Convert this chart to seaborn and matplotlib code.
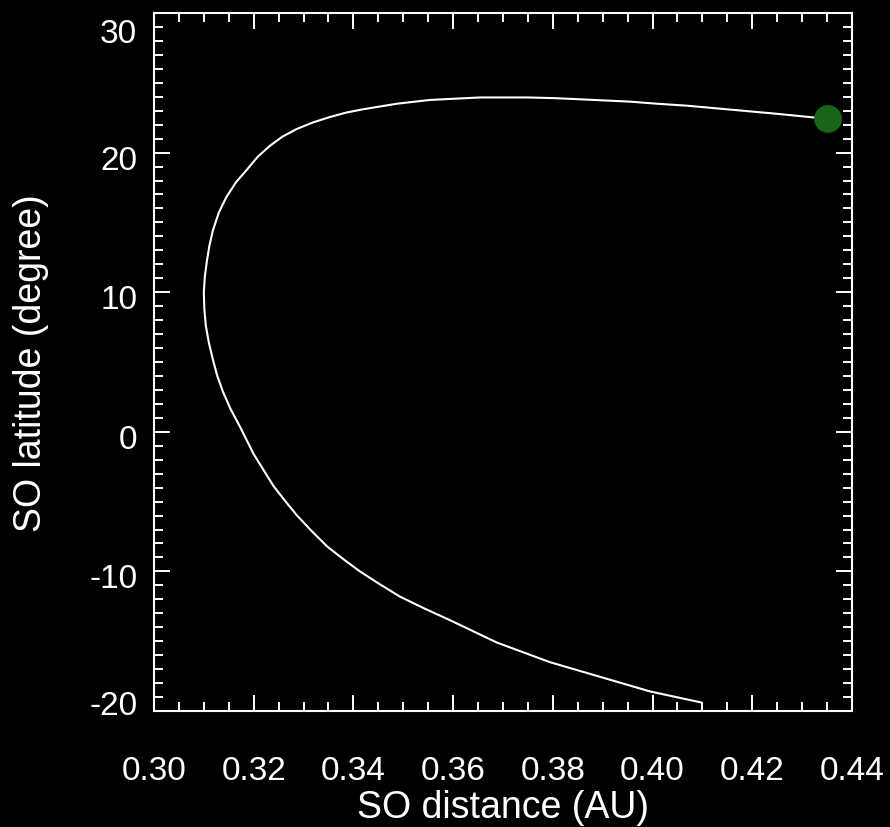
import matplotlib
matplotlib.use("Agg")
import matplotlib.pyplot as plt
import matplotlib.transforms as mtransforms
from matplotlib.ticker import MultipleLocator, FixedLocator, FixedFormatter
import pandas as pd
import seaborn as sns

# Solar Orbiter track: heliocentric distance (AU) and latitude (degree)
so_distance = [0.4099, 0.3995, 0.3794, 0.3688, 0.3594, 0.3542, 0.3493, 0.3452,
               0.3413, 0.3379, 0.3347, 0.3316, 0.3287, 0.3263, 0.3240, 0.3220,
               0.3200, 0.3186, 0.3172, 0.3154, 0.3138, 0.3127, 0.3118, 0.3110,
               0.3104, 0.3101, 0.3100, 0.3102, 0.3106, 0.3111, 0.3118, 0.3130,
               0.3145, 0.3165, 0.3187, 0.3208, 0.3233, 0.3258, 0.3287, 0.3318,
               0.3353, 0.3386, 0.3419, 0.3487, 0.3553, 0.3654, 0.3750, 0.3804,
               0.3883, 0.3955, 0.4009, 0.4069, 0.4159, 0.4246, 0.4328, 0.4352]
so_latitude = [-19.4, -18.6, -16.5, -15.1, -13.5, -12.65, -11.8, -10.9,
               -10.0, -9.1, -8.2, -7.1, -6.0, -4.95, -3.9, -2.75,
               -1.6, -0.6, 0.4, 1.6, 2.9, 4.0, 5.2, 6.4,
               7.6, 8.8, 10.0, 11.1, 12.2, 13.3, 14.4, 15.7,
               16.8, 17.9, 18.8, 19.7, 20.5, 21.15, 21.7, 22.15,
               22.55, 22.87, 23.1, 23.5, 23.77, 23.95, 23.95, 23.9,
               23.77, 23.65, 23.5, 23.36, 23.07, 22.79, 22.5, 22.41]

x_ticks = [0.30, 0.32, 0.34, 0.36, 0.38, 0.40, 0.42, 0.44]
x_tick_labels = ["0.30", "0.32", "0.34", "0.36", "0.38", "0.40", "0.42", "0.44"]
y_ticks = [-20, -10, 0, 10, 20, 30]
y_tick_labels = ["-20", "-10", "0", "10", "20", "30"]

sns.set_theme(style="dark", rc={
    "figure.facecolor": "black",
    "axes.facecolor": "black",
    "axes.edgecolor": "white",
    "axes.labelcolor": "white",
    "text.color": "white",
    "xtick.color": "white",
    "ytick.color": "white",
    "axes.grid": False,
})
plt.rcParams["font.family"] = ["Liberation Sans", "DejaVu Sans"]

fig = plt.figure(figsize=(8.9, 8.28), dpi=100, facecolor="black")
ax = fig.add_axes([0.1730, 0.1401, 0.7843, 0.8430])
ax.set_facecolor("black")

track = pd.DataFrame({"distance": so_distance, "latitude": so_latitude})
sns.lineplot(data=track, x="distance", y="latitude", sort=False, estimator=None,
             color="white", linewidth=1.5, ax=ax)

# current spacecraft position
sns.scatterplot(x=[so_distance[-1]], y=[so_latitude[-1]], s=400,
                color="#186418", edgecolor="none", ax=ax, zorder=3)

ax.set_xlim(0.30, 0.44)
ax.set_ylim(-20, 30)

ax.xaxis.set_major_locator(FixedLocator(x_ticks))
ax.xaxis.set_major_formatter(FixedFormatter(x_tick_labels))
ax.yaxis.set_major_locator(FixedLocator(y_ticks))
ax.yaxis.set_major_formatter(FixedFormatter(y_tick_labels))
ax.xaxis.set_minor_locator(MultipleLocator(0.005))
ax.yaxis.set_minor_locator(MultipleLocator(1))

ax.tick_params(which="both", direction="in", top=True, right=True,
               bottom=True, left=True, colors="white", width=1.4)
ax.tick_params(which="major", length=11.5, labelsize=24)
ax.tick_params(which="minor", length=6.2)
ax.tick_params(axis="x", which="major", pad=32)
ax.tick_params(axis="y", which="major", pad=12)

for spine in ax.spines.values():
    spine.set_color("white")
    spine.set_linewidth(1.5)

ax.set_xlabel("SO distance (AU)", fontsize=27, color="white")
ax.set_ylabel("SO latitude (degree)", fontsize=27, color="white")
ax.xaxis.set_label_coords(0.5, -0.1375)
ax.xaxis.label.set_verticalalignment("center")
ax.yaxis.set_label_coords(-0.176, 0.5)
ax.yaxis.label.set_verticalalignment("center")

# nudge the latitude labels: end labels sit inside the frame
fig.canvas.draw()
shifts = {"30": -17, "-20": 9}
for lab in ax.get_yticklabels():
    dy = shifts.get(lab.get_text(), -4)
    lab.set_transform(lab.get_transform() +
                      mtransforms.ScaledTranslation(0, dy / 100, fig.dpi_scale_trans))

fig.savefig("out.png", dpi=100, facecolor="black")
